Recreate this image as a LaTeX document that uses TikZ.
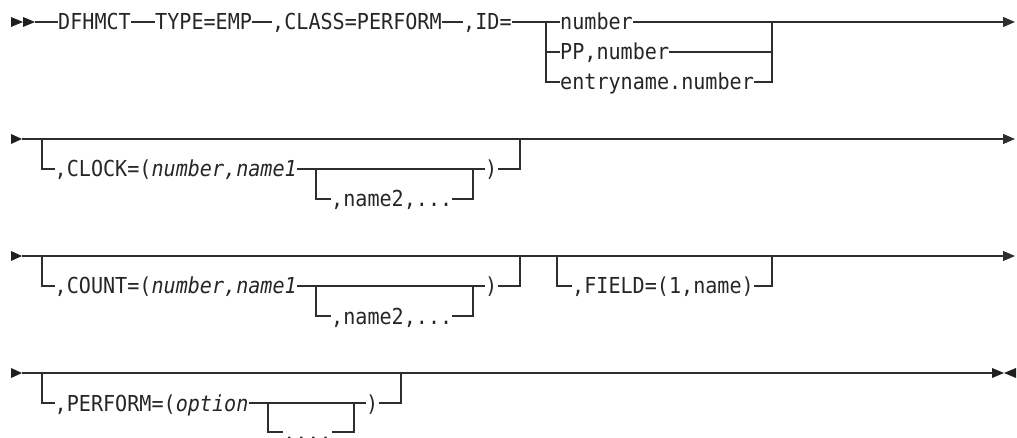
\documentclass[tikz,border=0pt]{standalone}
\usepackage{fontspec}
\newfontfamily\sd[FakeStretch=0.914]{DejaVu Sans Mono}
\usetikzlibrary{arrows.meta}
\begin{document}
\begin{tikzpicture}[x=1pt,y=-1pt,
  ln/.style={line width=1.15pt, draw=black!82},
  endarr/.style={ln,-{Triangle[length=12pt,width=10pt]}},
  mk/.style={fill=black!88},
  txt/.style={font=\fontsize{22}{22}\sd, inner sep=0pt, text height=16pt, text depth=0pt, anchor=west, text=black!85}]
\path[use as bounding box, clip] (0,0) rectangle (1017,438);
% ---------- row 1
\fill[mk] (11,17) -- (23,22) -- (11,27) -- cycle;
\fill[mk] (23,17) -- (35,22) -- (23,27) -- cycle;
\coordinate (r1s) at (35,22);
\node[txt] (dfh) at (58,22) {DFHMCT};
\node[txt] (typ) at (155,22) {TYPE=EMP};
\node[txt] (cls) at (272,22) {,CLASS=PERFORM};
\node[txt] (id) at (463,22) {,ID=};
\coordinate (j1) at (546,22);
\coordinate (j1b) at (546,52);
\coordinate (j1c) at (546,82);
\node[txt] (num) at (560,22) {number};
\node[txt] (pp) at (560,52) {PP,number};
\node[txt] (ent) at (560,82) {entryname.number};
\coordinate (k1) at (772,22);
\coordinate (k1b) at (772,52);
\coordinate (k1c) at (772,82);
\coordinate (e1) at (1015,22);
\draw[ln] (r1s) -- (dfh);
\draw[ln] (dfh) -- (typ);
\draw[ln] (typ) -- (cls);
\draw[ln] (cls) -- (id);
\draw[ln] (id) -- (j1) -- (num);
\draw[ln] (j1) -- (j1c) -- (ent);
\draw[ln] (j1b) -- (pp);
\draw[ln] (pp) -- (k1b);
\draw[ln] (ent) -- (k1c) -- (k1);
\draw[endarr] (num) -- (k1) -- (e1);
% ---------- row 2
\fill[mk] (11,134) -- (22,139) -- (11,144) -- cycle;
\coordinate (r2s) at (22,139);
\coordinate (e2) at (1015,139);
\draw[endarr] (r2s) -- (e2);
\coordinate (a2) at (42,139);
\coordinate (a2b) at (42,169);
\node[txt] (clk) at (54.5,169) {,CLOCK=(\itshape number,name1};
\coordinate (b2) at (316,169);
\coordinate (b2b) at (316,199);
\node[txt] (n2) at (331,199) {,name2,...};
\coordinate (c2) at (473,169);
\coordinate (c2b) at (473,199);
\node[txt] (rp2) at (485,169) {)};
\coordinate (d2) at (520,169);
\coordinate (d2t) at (520,139);
\draw[ln] (a2) -- (a2b) -- (clk);
\draw[ln] (clk) -- (rp2);
\draw[ln] (b2) -- (b2b) -- (n2);
\draw[ln] (n2) -- (c2b) -- (c2);
\draw[ln] (rp2) -- (d2) -- (d2t);
% ---------- row 3
\fill[mk] (11,251) -- (22,256) -- (11,261) -- cycle;
\coordinate (r3s) at (22,256);
\coordinate (e3) at (1015,256);
\draw[endarr] (r3s) -- (e3);
\coordinate (a3) at (42,256);
\coordinate (a3b) at (42,286);
\node[txt] (cnt) at (54.5,286) {,COUNT=(\itshape number,name1};
\coordinate (b3) at (316,286);
\coordinate (b3b) at (316,316);
\node[txt] (n3) at (331,316) {,name2,...};
\coordinate (c3) at (473,286);
\coordinate (c3b) at (473,316);
\node[txt] (rp3) at (485,286) {)};
\coordinate (d3) at (520,286);
\coordinate (d3t) at (520,256);
\draw[ln] (a3) -- (a3b) -- (cnt);
\draw[ln] (cnt) -- (rp3);
\draw[ln] (b3) -- (b3b) -- (n3);
\draw[ln] (n3) -- (c3b) -- (c3);
\draw[ln] (rp3) -- (d3) -- (d3t);
\coordinate (f3) at (557,256);
\coordinate (f3b) at (557,286);
\node[txt] (fld) at (572,286) {,FIELD=(1,name)};
\coordinate (g3) at (772,256);
\coordinate (g3b) at (772,286);
\draw[ln] (f3) -- (f3b) -- (fld);
\draw[ln] (fld) -- (g3b) -- (g3);
% ---------- row 4
\fill[mk] (11,368) -- (22,373) -- (11,378) -- cycle;
\coordinate (r4s) at (22,373);
\coordinate (e4) at (992,373);
\draw[ln] (r4s) -- (e4);
\fill[mk] (992,368) -- (1004,373) -- (992,378) -- cycle;
\fill[mk] (1016,368) -- (1004,373) -- (1016,378) -- cycle;
\coordinate (a4) at (42,373);
\coordinate (a4b) at (42,403);
\node[txt] (prf) at (54.5,403) {,PERFORM=(\itshape option};
\coordinate (b4) at (268,403);
\coordinate (b4b) at (268,432);
\node[txt] (dts) at (283,432) {,...};
\coordinate (c4) at (354,403);
\coordinate (c4b) at (354,432);
\node[txt] (rp4) at (366,403) {)};
\coordinate (d4) at (401,403);
\coordinate (d4t) at (401,373);
\draw[ln] (a4) -- (a4b) -- (prf);
\draw[ln] (prf) -- (rp4);
\draw[ln] (b4) -- (b4b) -- (dts);
\draw[ln] (dts) -- (c4b) -- (c4);
\draw[ln] (rp4) -- (d4) -- (d4t);
\end{tikzpicture}
\end{document}
